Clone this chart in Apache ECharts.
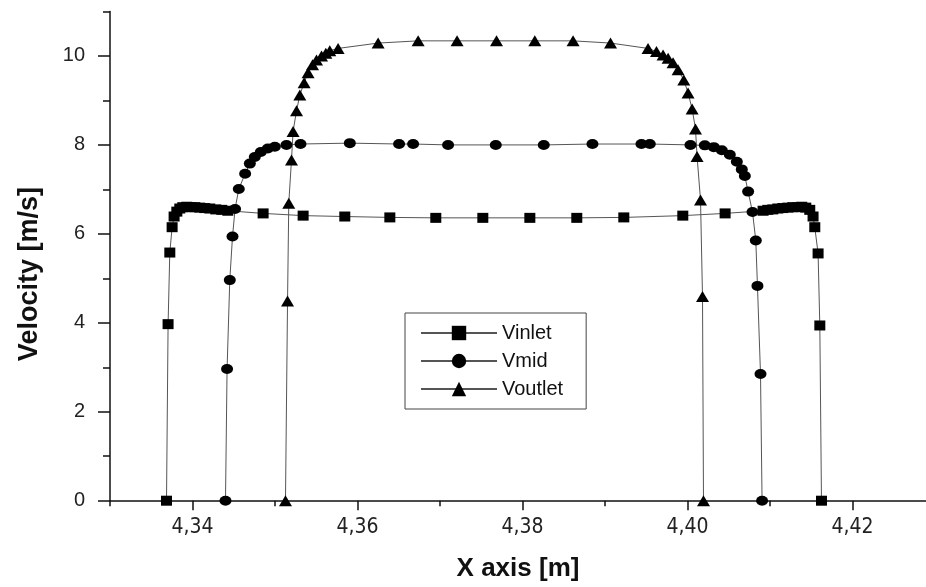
<!DOCTYPE html>
<html>
<head>
<meta charset="utf-8">
<script src="https://cdn.jsdelivr.net/npm/echarts@6/dist/echarts.min.js"></script>
<style>
  html, body { margin: 0; padding: 0; background: #fff; }
  #chart { width: 926px; height: 587px; }
</style>
</head>
<body>
<div id="chart"></div>
<script>
// Velocity profiles across the channel at three stations
const inletX = [4.33685, 4.33704, 4.33725, 4.33753, 4.33777, 4.33810, 4.33846, 4.33882, 4.33931, 4.33979,
  4.34028, 4.34088, 4.34149, 4.34210, 4.34282, 4.34355, 4.34428, 4.34856, 4.35341, 4.35846,
  4.36392, 4.36949, 4.37519, 4.38089, 4.38658, 4.39228, 4.39943, 4.40456, 4.40916, 4.40973,
  4.41034, 4.41095, 4.41155, 4.41216, 4.41276, 4.41337, 4.41385, 4.41434, 4.41482, 4.41522,
  4.41543, 4.41583, 4.41604, 4.41624];
const inletV = [0, 3.97, 5.58, 6.15, 6.39, 6.50, 6.57, 6.60, 6.61, 6.60,
  6.60, 6.59, 6.58, 6.57, 6.55, 6.54, 6.52, 6.46, 6.41, 6.39,
  6.37, 6.36, 6.36, 6.36, 6.36, 6.37, 6.41, 6.46, 6.52, 6.54,
  6.55, 6.57, 6.58, 6.59, 6.60, 6.60, 6.61, 6.59, 6.54, 6.39,
  6.15, 5.56, 3.94, 0];

const midX = [4.34400, 4.34419, 4.34452, 4.34485, 4.34516, 4.34561, 4.34638, 4.34695, 4.34755, 4.34828,
  4.34913, 4.34998, 4.35139, 4.35309, 4.35907, 4.36504, 4.36674, 4.37098, 4.37676, 4.38258,
  4.38848, 4.39442, 4.39543, 4.40036, 4.40210, 4.40319, 4.40416, 4.40513, 4.40598, 4.40658,
  4.40695, 4.40735, 4.40788, 4.40828, 4.40848, 4.40885, 4.40904];
const midV = [0, 2.96, 4.96, 5.94, 6.56, 7.01, 7.35, 7.58, 7.73, 7.84,
  7.92, 7.96, 8.00, 8.02, 8.04, 8.02, 8.02, 8.00, 8.00, 8.00,
  8.02, 8.02, 8.02, 8.00, 7.99, 7.95, 7.88, 7.78, 7.62, 7.45,
  7.30, 6.95, 6.49, 5.85, 4.83, 2.85, 0];

const outletX = [4.35127, 4.35152, 4.35167, 4.35200, 4.35219, 4.35261, 4.35301, 4.35353, 4.35401, 4.35455,
  4.35503, 4.35564, 4.35616, 4.35664, 4.35765, 4.36250, 4.36735, 4.37207, 4.37685, 4.38149,
  4.38613, 4.39067, 4.39522, 4.39624, 4.39704, 4.39765, 4.39825, 4.39886, 4.39955, 4.40007,
  4.40056, 4.40097, 4.40116, 4.40158, 4.40182, 4.40194];
const outletV = [0, 4.49, 6.69, 7.66, 8.30, 8.77, 9.12, 9.40, 9.62, 9.80,
  9.91, 10.00, 10.06, 10.12, 10.17, 10.29, 10.34, 10.34, 10.34, 10.34,
  10.34, 10.29, 10.17, 10.10, 10.02, 9.95, 9.85, 9.69, 9.46, 9.17,
  8.81, 8.36, 7.74, 6.76, 4.59, 0];

const seriesNames = ['Vinlet', 'Vmid', 'Voutlet'];

// axis ticks and their labels
const xMajorTicks = [4.34, 4.36, 4.38, 4.40, 4.42];
const xMinorTicks = [4.33, 4.35, 4.37, 4.39, 4.41];
const xTickLabels = ['4,34', '4,36', '4,38', '4,40', '4,42'];
const yMajorTicks = [0, 2, 4, 6, 8, 10];
const yMinorTicks = [1, 3, 5, 7, 9, 11];
const yTickLabels = ['0', '2', '4', '6', '8', '10'];

const zip = (xs, ys) => xs.map((x, i) => [x, ys[i]]);
const labelFor = (ticks, labels) => v => {
  const i = ticks.findIndex(t => Math.abs(t - v) < 1e-9);
  return i < 0 ? '' : labels[i];
};

const chart = echarts.init(document.getElementById('chart'), null, { renderer: 'canvas' });

const axisLineStyle = { color: '#111', width: 1.5 };
// the x axis runs off the right edge of the canvas, just short of 4.43
const X_MIN = 4.33, X_MAX = 4.42891, Y_MIN = 0, Y_MAX = 11;

function profile(name, data, symbol, size) {
  return {
    name: name,
    type: 'line',
    xAxisIndex: 0,
    yAxisIndex: 0,
    data: data,
    symbol: symbol,
    symbolSize: size,
    showAllSymbol: true,
    smooth: false,
    itemStyle: { color: '#000' },
    lineStyle: { color: '#555', width: 1 },
    emphasis: { disabled: true }
  };
}

chart.setOption({
  animation: false,
  backgroundColor: '#fff',
  grid: { left: 110, top: 11.5, right: 0, bottom: 86.3, containLabel: false },
  legend: {
    orient: 'vertical',
    left: 405,
    top: 313,
    padding: [10, 23, 10, 15],
    itemGap: 8,
    itemWidth: 76,
    itemHeight: 18,
    borderColor: '#444',
    borderWidth: 1,
    backgroundColor: '#fff',
    selectedMode: false,
    data: seriesNames,
    textStyle: { fontFamily: 'Liberation Sans, Arial, sans-serif', fontSize: 20, color: '#111' }
  },
  xAxis: [
    {
      type: 'value', position: 'bottom', min: X_MIN, max: X_MAX,
      axisLine: { show: true, onZero: false, lineStyle: axisLineStyle },
      axisTick: { show: true, customValues: xMinorTicks, length: 5.5, lineStyle: axisLineStyle },
      axisLabel: { show: false },
      splitLine: { show: false }
    },
    {
      type: 'value', position: 'bottom', min: X_MIN, max: X_MAX,
      axisLine: { show: false, onZero: false },
      axisTick: { show: true, customValues: xMajorTicks, length: 9.5, lineStyle: axisLineStyle },
      axisLabel: {
        show: true, customValues: xMajorTicks, margin: 16,
        formatter: labelFor(xMajorTicks, xTickLabels),
        fontFamily: 'Liberation Sans Narrow, DejaVu Sans Condensed, Liberation Sans, sans-serif',
        fontSize: 21, color: '#222'
      },
      splitLine: { show: false },
      name: 'X axis [m]',
      nameLocation: 'middle',
      nameGap: 55,
      nameTextStyle: { fontFamily: 'Liberation Sans, Arial, sans-serif', fontWeight: 'bold', fontSize: 26, color: '#111' }
    }
  ],
  yAxis: [
    {
      type: 'value', position: 'left', min: Y_MIN, max: Y_MAX,
      axisLine: { show: true, onZero: false, lineStyle: axisLineStyle },
      axisTick: { show: true, customValues: yMinorTicks, length: 7, lineStyle: axisLineStyle },
      axisLabel: { show: false },
      splitLine: { show: false }
    },
    {
      type: 'value', position: 'left', min: Y_MIN, max: Y_MAX,
      axisLine: { show: false, onZero: false },
      axisTick: { show: true, customValues: yMajorTicks, length: 12, lineStyle: axisLineStyle },
      axisLabel: {
        show: true, customValues: yMajorTicks, margin: 25,
        formatter: labelFor(yMajorTicks, yTickLabels),
        fontFamily: 'Liberation Sans, Arial, sans-serif', fontSize: 20, color: '#222'
      },
      splitLine: { show: false },
      name: 'Velocity [m/s]',
      nameLocation: 'middle',
      nameGap: 67,
      nameRotate: 90,
      nameTextStyle: {
        fontFamily: 'Liberation Sans, Arial, sans-serif', fontWeight: 'bold', fontSize: 27, color: '#111',
        padding: [0, 36, 0, 0]
      }
    }
  ],
  series: [
    profile('Vinlet', zip(inletX, inletV), 'rect', [11, 10]),
    profile('Vmid', zip(midX, midV), 'circle', [12, 10]),
    profile('Voutlet', zip(outletX, outletV), 'triangle', [13, 11])
  ]
});
</script>
</body>
</html>
